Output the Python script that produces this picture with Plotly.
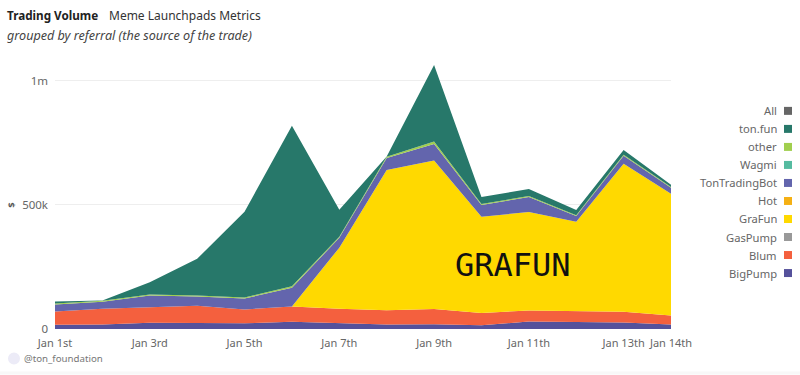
import plotly.graph_objects as go

days = ["Jan 1st","Jan 2nd","Jan 3rd","Jan 4th","Jan 5th","Jan 6th","Jan 7th","Jan 8th","Jan 9th","Jan 10th","Jan 11th","Jan 12th","Jan 13th","Jan 14th"]
tick_labels = ["Jan 1st","Jan 3rd","Jan 5th","Jan 7th","Jan 9th","Jan 11th","Jan 13th","Jan 14th"]

big_pump = [17000,18000,25000,24000,23000,29000,22000,18000,19000,15000,30000,28000,26000,18000]
blum = [54000,64000,63000,70000,56000,62000,60000,58000,62000,50000,45000,45000,44000,36000]
gas_pump = [0]*14
gra_fun = [0,0,0,0,0,0,246000,565000,598000,387000,397000,359000,596000,491000]
hot = [0]*14
ton_trading_bot = [28000,28000,47000,37000,44000,75000,40000,48000,67000,48000,60000,24000,32000,24000]
wagmi = [0]*14
other = [4000,4000,4000,4000,4000,6000,4000,5000,10000,4000,4000,3000,4000,3000]
ton_fun = [8000,1000,49000,148000,346000,647000,109000,1000,308000,28000,28000,21000,20000,9000]

series = [
    ("BigPump", big_pump, "#55519b"),
    ("Blum", blum, "#f4603e"),
    ("GasPump", gas_pump, "#999999"),
    ("GraFun", gra_fun, "#ffd900"),
    ("Hot", hot, "#f5b014"),
    ("TonTradingBot", ton_trading_bot, "#6365ad"),
    ("Wagmi", wagmi, "#55bba0"),
    ("other", other, "#a1cf4e"),
    ("ton.fun", ton_fun, "#27786a"),
]
legend_names = ["All","ton.fun","other","Wagmi","TonTradingBot","Hot","GraFun","GasPump","Blum","BigPump"]
legend_colors = ["#666666","#27786a","#a1cf4e","#55bba0","#6365ad","#f5b014","#ffd900","#999999","#f4603e","#55519b"]

W, H = 800, 375
L, R, T, B = 55, 129, 40, 45.5
FONT = "Noto Sans"
def px(x): return (x - L) / (W - L - R)
def py(y): return (H - B - y) / (H - T - B)

fig = go.Figure()
for name, vals, col in series:
    fig.add_trace(go.Scatter(x=days, y=vals, name=name, mode="lines", stackgroup="one",
                             line=dict(width=0, color=col), fillcolor=col, showlegend=False))

ann = []
def text(x, y, s, size=11, color="#666666", anchor="left", **kw):
    ann.append(dict(xref="paper", yref="paper", x=px(x), y=py(y), text=s, showarrow=False,
                    xanchor=anchor, yanchor="middle", font=dict(family=kw.pop("family", FONT), size=size, color=color), **kw))

text(5, 15, "<b>Trading Volume</b>", 11.7, "#222222")
text(107, 15, "Meme Launchpads Metrics", 12, "#333333")
text(4.5, 35, "<i>grouped by referral (the source of the trade)</i>", 12.6, "#444444")
text(22, 359, "@ton_foundation", 9.7, "#777777")
text(12, 205, "<b>$</b>", 9.5, "#555555", anchor="center", textangle=-90)
text(513, 265, "GRAFUN", 32, "#111111", anchor="center", family="DejaVu Sans Mono")

shapes = [
    dict(type="rect", xref="paper", yref="paper", x0=px(0), x1=px(800), y0=py(372), y1=py(375), fillcolor="#f8f8f8", line_width=0, layer="below"),
    dict(type="circle", xref="paper", yref="paper", x0=px(8), x1=px(20), y0=py(365), y1=py(353), fillcolor="#ecebf7", line_width=0),
]
for i, (n, c) in enumerate(zip(legend_names, legend_colors)):
    yc = 111 + i * 18.05
    text(779, yc, n, 11.2, "#666666", anchor="right")
    shapes.append(dict(type="rect", xref="paper", yref="paper", x0=px(784), x1=px(792),
                       y0=py(yc + 4), y1=py(yc - 4), fillcolor=c, line_width=0))

fig.update_layout(
    width=W, height=H, margin=dict(l=L, r=R, t=T, b=B),
    paper_bgcolor="white", plot_bgcolor="white", showlegend=False,
    font=dict(family=FONT, size=11, color="#666666"),
    annotations=ann, shapes=shapes,
    xaxis=dict(type="category", categoryorder="array", categoryarray=days, tickmode="array",
               tickvals=tick_labels, ticktext=tick_labels, range=[0, 13], showgrid=False,
               showline=False, ticks="", zeroline=False, tickfont=dict(size=11, color="#666666"),
               tickangle=0, ticklabelstandoff=6),
    yaxis=dict(range=[0, 1165000], tickmode="array", tickvals=[0, 500000, 1000000],
               ticktext=["0", "500k", "1m"], showgrid=True, gridcolor="#eeeeee", gridwidth=1,
               zeroline=False, showline=False, ticks="", tickfont=dict(size=11.5, color="#666666"),
               ticklabelstandoff=6),
)
fig.write_html("out.html", config={"displayModeBar": False}, post_script="document.body.style.margin='0';")
